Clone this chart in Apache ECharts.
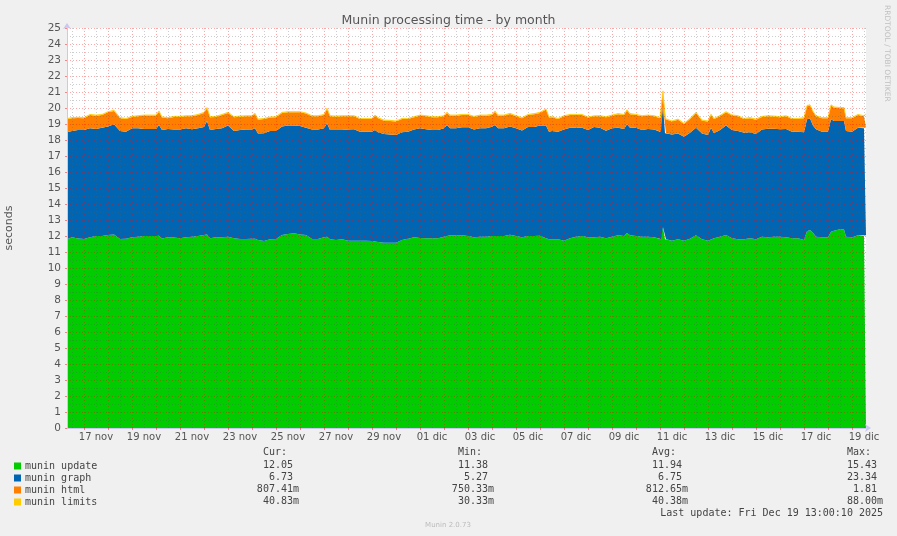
<!DOCTYPE html>
<html>
<head>
<meta charset="utf-8">
<script src="https://cdn.jsdelivr.net/npm/echarts@6/dist/echarts.min.js"></script>
<style>
html,body{margin:0;padding:0;background:#f0f0f0;}
#chart{width:897px;height:536px;}
</style>
</head>
<body>
<div id="chart"></div>
<script>
// hours since 16 nov 2025 00:00
var hours = [
7,12,18,24,30,36,42,48,54,60,
66,72,78,84,90,96,99,102,108,114,
120,126,132,138,144,147,150,156,162,168,
174,180,186,192,195,198,204,210,216,222,
228,234,240,246,252,258,264,267,270,276,
282,288,294,300,306,312,315,318,324,330,
336,342,348,354,360,366,372,378,384,387,
390,396,402,408,414,420,426,432,435,438,
444,450,456,462,468,474,480,486,489,492,
498,504,510,516,522,528,534,540,546,552,
558,564,567,570,576,582,588,594,600,601,
603,605,606,612,618,624,630,636,642,648,
651,654,660,666,672,678,684,690,696,702,
708,714,720,726,732,738,744,747,750,753,
756,762,768,771,774,780,784,786,792,798,
804,806];

var muninUpdate = [
11.80,11.92,11.85,11.81,11.92,12.00,12.00,12.06,12.10,11.82,
11.83,11.92,11.96,12.00,12.00,12.00,12.02,11.85,11.92,11.90,
11.86,11.92,11.96,12.00,12.06,12.10,11.86,11.92,11.92,11.96,
11.86,11.82,11.82,11.83,11.83,11.75,11.69,11.80,11.81,12.06,
12.12,12.17,12.10,12.06,11.82,11.82,11.92,11.96,11.80,11.75,
11.80,11.71,11.71,11.71,11.71,11.69,11.66,11.63,11.58,11.58,
11.58,11.75,11.83,11.92,11.88,11.86,11.86,11.86,11.96,12.00,
12.04,12.04,12.04,12.00,11.92,11.96,11.96,12.00,12.00,12.00,
12.00,12.08,12.00,11.92,12.00,12.00,12.02,11.86,11.80,11.80,
11.80,11.71,11.86,11.96,12.00,11.92,11.92,11.96,11.86,11.96,
12.04,12.00,12.18,12.04,12.00,11.96,11.96,11.92,11.82,11.82,
12.55,11.80,11.80,11.71,11.80,11.71,11.83,12.04,11.80,11.71,
11.78,11.86,11.96,12.06,11.86,11.80,11.80,11.86,11.80,11.96,
11.92,11.96,11.96,11.92,11.86,11.86,11.75,12.30,12.38,12.20,
11.96,11.92,11.92,12.27,12.33,12.42,12.40,11.96,11.92,12.04,
12.00,12.05];

var muninGraph = [
6.68,6.64,6.78,6.82,6.81,6.69,6.77,6.79,6.88,6.74,
6.69,6.81,6.77,6.69,6.69,6.69,6.92,6.78,6.77,6.75,
6.79,6.81,6.71,6.73,6.75,7.09,6.77,6.77,6.81,6.94,
6.70,6.81,6.83,6.82,6.90,6.65,6.73,6.76,6.75,6.79,
6.78,6.73,6.78,6.71,6.83,6.83,6.81,7.08,6.83,6.88,
6.83,6.94,6.96,6.81,6.81,6.83,6.97,6.85,6.80,6.77,
6.73,6.73,6.69,6.73,6.85,6.81,6.77,6.77,6.77,6.94,
6.69,6.69,6.75,6.79,6.73,6.77,6.77,6.83,6.94,6.73,
6.73,6.77,6.73,6.68,6.81,6.81,6.88,7.04,6.72,6.76,
6.72,6.94,6.91,6.81,6.77,6.71,6.89,6.81,6.72,6.77,
6.73,6.69,6.80,6.73,6.77,6.67,6.73,6.73,6.70,6.70,
7.53,6.62,6.62,6.64,6.60,6.50,6.63,6.73,6.60,6.60,
6.99,6.56,6.67,6.84,6.77,6.76,6.66,6.62,6.58,6.69,
6.79,6.75,6.71,6.77,6.66,6.66,6.73,7.00,6.97,6.70,
6.71,6.60,6.60,7.02,6.86,6.77,6.79,6.60,6.60,6.73,
6.73,6.73];

var muninHtml = [
0.83,0.80,0.75,0.73,0.83,0.83,0.79,0.88,0.83,0.80,
0.79,0.71,0.75,0.83,0.83,0.83,0.83,0.77,0.67,0.79,
0.79,0.75,0.81,0.83,0.88,0.79,0.79,0.75,0.83,0.79,
0.86,0.83,0.83,0.83,0.90,0.87,0.89,0.84,0.86,0.84,
0.83,0.83,0.85,0.88,0.83,0.83,0.83,0.90,0.85,0.83,
0.85,0.83,0.81,0.79,0.79,0.79,0.89,0.88,0.83,0.84,
0.84,0.83,0.79,0.77,0.79,0.81,0.79,0.79,0.75,0.75,
0.79,0.79,0.77,0.77,0.79,0.79,0.79,0.73,0.83,0.79,
0.79,0.78,0.75,0.76,0.75,0.80,0.79,1.00,0.88,0.86,
0.79,0.83,0.79,0.79,0.79,0.77,0.67,0.71,0.84,0.79,
0.84,0.87,0.86,0.84,0.79,0.85,0.83,0.83,0.84,0.84,
0.90,0.89,0.89,0.80,0.87,0.79,0.85,0.92,0.81,0.84,
0.79,0.89,0.86,0.83,0.90,0.92,0.85,0.88,0.89,0.79,
0.77,0.75,0.75,0.79,0.79,0.79,0.88,0.81,0.80,0.86,
0.81,0.84,0.84,0.86,0.83,0.79,0.79,0.80,0.84,0.79,
0.75,0.81];

var muninLimits = [
0.04,0.04,0.04,0.04,0.04,0.04,0.04,0.04,0.05,0.04,
0.04,0.04,0.04,0.04,0.04,0.04,0.05,0.04,0.04,0.04,
0.04,0.04,0.04,0.04,0.04,0.05,0.04,0.04,0.04,0.04,
0.04,0.04,0.04,0.04,0.04,0.04,0.04,0.04,0.04,0.04,
0.04,0.04,0.04,0.04,0.04,0.04,0.04,0.05,0.04,0.04,
0.04,0.04,0.04,0.04,0.04,0.04,0.04,0.04,0.04,0.04,
0.04,0.04,0.04,0.04,0.04,0.04,0.04,0.04,0.04,0.05,
0.04,0.04,0.04,0.04,0.04,0.04,0.04,0.04,0.05,0.04,
0.04,0.04,0.04,0.04,0.04,0.04,0.04,0.04,0.04,0.04,
0.04,0.04,0.04,0.04,0.04,0.04,0.03,0.04,0.04,0.04,
0.04,0.04,0.05,0.04,0.04,0.04,0.04,0.04,0.04,0.04,
0.09,0.04,0.04,0.04,0.04,0.04,0.04,0.04,0.04,0.04,
0.05,0.04,0.04,0.04,0.04,0.04,0.04,0.04,0.04,0.04,
0.04,0.04,0.04,0.04,0.04,0.04,0.04,0.05,0.05,0.04,
0.04,0.04,0.04,0.05,0.05,0.05,0.05,0.04,0.04,0.04,
0.04,0.04];

var seriesNames = ['munin update','munin graph','munin html','munin limits'];
var seriesColors = ['#00cc00','#0066b3','#ff8000','#ffcc00'];

var xLabelHours = [36,84,132,180,228,276,324,372,420,468,516,564,612,660,708,756,804];
var xLabels = ['17 nov','19 nov','21 nov','23 nov','25 nov','27 nov','29 nov','01 dic','03 dic','05 dic','07 dic','09 dic','11 dic','13 dic','15 dic','17 dic','19 dic'];

var curVals = ['12.05','6.73','807.41m','40.83m'];
var minVals = ['11.38','5.27','750.33m','30.33m'];
var avgVals = ['11.94','6.75','812.65m','40.38m'];
var maxVals = ['15.43','23.34','1.81','88.00m'];
var colHeaders = ['Cur:','Min:','Avg:','Max:'];

var T0 = Date.UTC(2025, 10, 16, 0, 0, 0);
var HOUR = 3600000;
function t(h){ return T0 + h * HOUR; }

var X_MIN = 7, X_MAX = 806;
var dayLines = [], halfDayLines = [];
for (var h = 24; h <= X_MAX; h += 24) dayLines.push(h);
for (var h2 = 12; h2 <= X_MAX; h2 += 24) halfDayLines.push(h2);

function pairs(arr){ return hours.map(function(hh,i){ return [t(hh), arr[i]]; }); }
var allSeries = [muninUpdate, muninGraph, muninHtml, muninLimits];

var chart = echarts.init(document.getElementById('chart'), null, {renderer:'canvas'});

var MONO = 'DejaVu Sans Mono';
var SANS = 'DejaVu Sans';
var TXT = '#444';

var graphics = [];
var colRight = [299, 494, 688, 883];
var cols = [curVals, minVals, avgVals, maxVals];
var rowY = [465, 477, 489, 501];
for (var c = 0; c < 4; c++) {
  graphics.push({type:'text', x: colRight[c]-12, y: 452, style:{text: colHeaders[c], font: '10px "'+MONO+'"', fill: TXT, textAlign:'right', textVerticalAlign:'middle'}});
  for (var r = 0; r < 4; r++) {
    var v = cols[c][r];
    var hasSuffix = /m$/.test(v);
    graphics.push({type:'text', x: hasSuffix ? colRight[c] : colRight[c]-6.02, y: rowY[r], style:{text: v, font: '10px "'+MONO+'"', fill: TXT, textAlign:'right', textVerticalAlign:'middle'}});
  }
}
graphics.push({type:'text', x: 883, y: 513, style:{text:'Last update: Fri Dec 19 13:00:10 2025', font:'10px "'+MONO+'"', fill: TXT, textAlign:'right', textVerticalAlign:'middle'}});
graphics.push({type:'text', x: 448, y: 525, style:{text:'Munin 2.0.73', font:'7px "'+SANS+'"', fill:'#bbbbbb', textAlign:'center', textVerticalAlign:'middle'}});
graphics.push({type:'text', x: 887, y: 5, rotation: -Math.PI/2, style:{text:'RRDTOOL / TOBI OETIKER', font:'7.5px "'+SANS+'"', fill:'#c0c0c0', textAlign:'left', textVerticalAlign:'middle'}});

var option = {
  backgroundColor: '#f0f0f0',
  animation: false,
  title: {
    text: 'Munin processing time - by month',
    left: 'center', top: 9,
    textStyle: {fontFamily: SANS, fontSize: 12.5, fontWeight: 'normal', color: '#555'}
  },
  legend: {
    orient: 'vertical', left: 14, top: 461, padding: 0,
    itemWidth: 7, itemHeight: 7, itemGap: 2, icon: 'rect',
    data: seriesNames,
    textStyle: {fontFamily: MONO, fontSize: 10, color: TXT, padding: [0,0,0,-1]}
  },
  grid: {left: 67, top: 28, width: 799, height: 400, backgroundColor: '#ffffff', show: true, borderWidth: 0,
         containLabel: false, outerBoundsMode: 'none'},
  xAxis: [{
    // data axis (time), hidden; grid and labels drawn by the hour axes below
    type: 'time', min: t(X_MIN), max: t(X_MAX), z: 1,
    axisLine: {show: false}, axisTick: {show: false}, axisLabel: {show: false}, splitLine: {show: false}
  },{
    type: 'value', min: X_MIN, max: X_MAX, z: 5, position: 'bottom',
    axisLine: {show: true, onZero: false, lineStyle: {color: '#c8c8f0', width: 1}, symbol: ['none','arrow'], symbolSize: [6, 6], symbolOffset: [0, 5]},
    axisTick: {show: true, customValues: dayLines, length: 2, lineStyle: {color: 'rgba(255,0,0,0.45)'}},
    axisLabel: {customValues: xLabelHours, margin: 4, fontFamily: SANS, fontSize: 10, color: '#555',
      formatter: function(val){ var i = xLabelHours.indexOf(Math.round(val)); return i >= 0 ? xLabels[i] : ''; }},
    splitLine: {show: true, lineStyle: {color: 'rgba(255,0,0,0.35)', width: 1, type: [1,2]}}
  },{
    type: 'value', min: X_MIN, max: X_MAX, z: 4, position: 'bottom',
    axisLine: {show: false},
    axisTick: {show: false, customValues: halfDayLines},
    axisLabel: {show: false, customValues: halfDayLines},
    splitLine: {show: true, lineStyle: {color: 'rgba(90,90,90,0.3)', width: 1, type: [1,2]}}
  }],
  yAxis: {
    type: 'value', min: 0, max: 25, interval: 1, z: 5,
    name: 'seconds', nameLocation: 'middle', nameGap: 52,
    nameTextStyle: {fontFamily: SANS, fontSize: 11, color: '#555'},
    axisLine: {show: true, onZero: false, lineStyle: {color: '#c8c8f0', width: 1}, symbol: ['none','arrow'], symbolSize: [6, 6], symbolOffset: [0, 5]},
    axisTick: {show: true, length: 2, lineStyle: {color: 'rgba(255,0,0,0.45)'}},
    axisLabel: {margin: 6, fontFamily: SANS, fontSize: 10.5, color: '#555'},
    splitLine: {show: true, lineStyle: {color: 'rgba(255,0,0,0.35)', width: 1, type: [1,2]}},
    minorTick: {show: false, splitNumber: 2},
    minorSplitLine: {show: true, lineStyle: {color: 'rgba(90,90,90,0.3)', width: 1, type: [1,2]}}
  },
  series: allSeries.map(function(arr, i){
    return {
      name: seriesNames[i], type: 'line', stack: 'total', xAxisIndex: 0,
      data: pairs(arr), symbol: 'none', showSymbol: false, smooth: false,
      color: seriesColors[i],
      lineStyle: {width: i === 3 ? 0.8 : 0, color: seriesColors[i]},
      areaStyle: {color: seriesColors[i], opacity: 1},
      z: 2
    };
  }),
  graphic: graphics
};
chart.setOption(option);
</script>
</body>
</html>
